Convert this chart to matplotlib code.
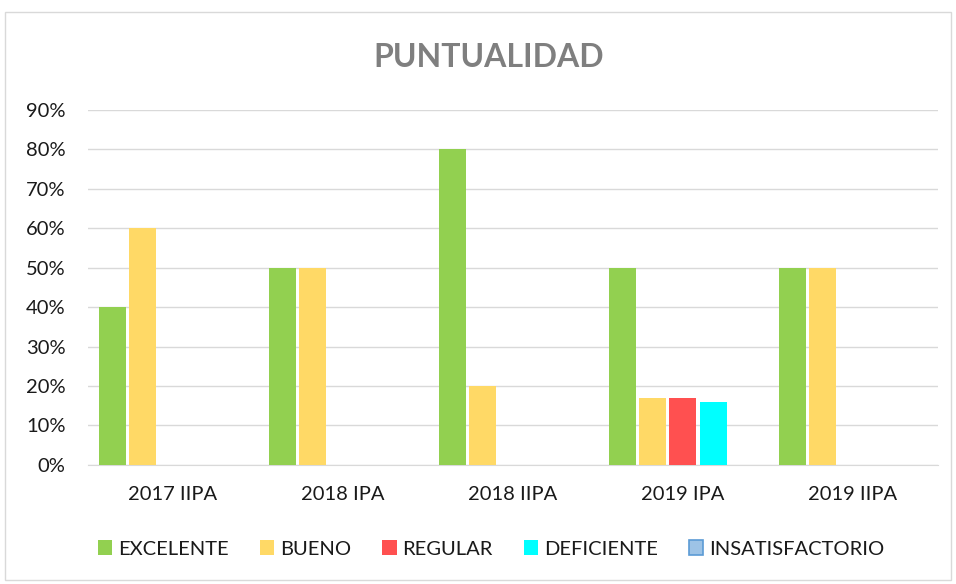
import numpy as np
import matplotlib
matplotlib.use("Agg")
import matplotlib.pyplot as plt
from matplotlib.patches import Rectangle, Patch
from matplotlib.ticker import PercentFormatter

plt.rcParams['font.family'] = ['Lato', 'DejaVu Sans']

periods = ['2017 IIPA', '2018 IPA', '2018 IIPA', '2019 IPA', '2019 IIPA']
series = ['EXCELENTE', 'BUENO', 'REGULAR', 'DEFICIENTE', 'INSATISFACTORIO']
excelente = [0.40, 0.50, 0.80, 0.50, 0.50]
bueno = [0.60, 0.50, 0.20, 0.17, 0.50]
regular = [0.0, 0.0, 0.0, 0.17, 0.0]
deficiente = [0.0, 0.0, 0.0, 0.16, 0.0]
insatisfactorio = [0.0, 0.0, 0.0, 0.0, 0.0]

colors = ['#92D050', '#FFD966', '#FF5050', '#00FFFF', '#9DC3E6']
edges = [None, None, None, None, '#5B9BD5']

fig = plt.figure(figsize=(9.56, 5.84), dpi=100)
ax = fig.add_axes([0.092, 0.204, 0.889, 0.608])

# outer chart border
fig.patches.append(Rectangle((0.005, 0.007), 0.99, 0.972, transform=fig.transFigure,
                             fill=False, edgecolor='#d9d9d9', linewidth=1))

x = np.arange(len(periods))
step = 0.178
width = 0.16
data = [excelente, bueno, regular, deficiente, insatisfactorio]
for i, vals in enumerate(data):
    ax.bar(x + (i - 2) * step, vals, width, color=colors[i], linewidth=0, zorder=3)

ax.set_xlim(-0.5, len(periods) - 0.5)
ax.set_ylim(0, 0.9)
ax.set_yticks(np.arange(0, 0.91, 0.1))
ax.yaxis.set_major_formatter(PercentFormatter(1.0, decimals=0))
ax.set_xticks(x)
ax.set_xticklabels(periods)
ax.tick_params(axis='both', length=0, labelsize=14.5, colors='#1a1a1a')
ax.tick_params(axis='x', pad=15)
ax.tick_params(axis='y', pad=16)
ax.grid(axis='y', color='#d9d9d9', linewidth=1, zorder=0)
for side in ['top', 'right', 'left']:
    ax.spines[side].set_visible(False)
ax.spines['bottom'].set_color('#d9d9d9')

fig.text(0.511, 0.902, 'PUNTUALIDAD', ha='center', va='center', fontsize=23,
         fontweight='bold', color='#7f7f7f')

handles = [Patch(facecolor=c, edgecolor=e if e else c, linewidth=1.2 if e else 0)
           for c, e in zip(colors, edges)]
fig.legend(handles, series, loc='center', bbox_to_anchor=(0.514, 0.06), ncol=5,
           frameon=False, fontsize=14.5, handlelength=0.7, handleheight=0.7,
           handletextpad=0.3, columnspacing=1.55, labelcolor='#1a1a1a')

fig.savefig('out.png', dpi=100)
